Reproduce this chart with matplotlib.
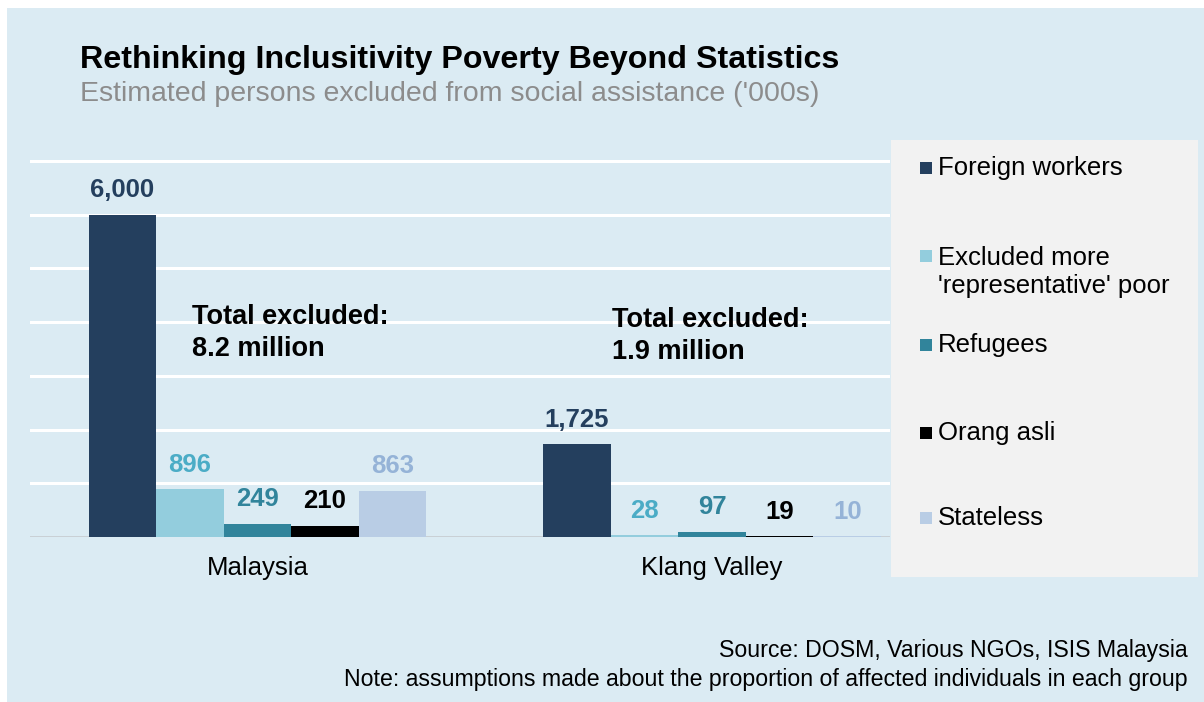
import matplotlib
matplotlib.use("Agg")
import matplotlib.pyplot as plt
from matplotlib.patches import Rectangle

plt.rcParams['font.family'] = ['Liberation Sans', 'DejaVu Sans']

# ---- data ('000 persons) ----
regions = ["Malaysia", "Klang Valley"]
groups = ["Foreign workers", "Excluded more\n'representative' poor", "Refugees",
          "Orang asli", "Stateless"]
foreign_workers = [6000, 1725]
representative_poor = [896, 28]
refugees = [249, 97]
orang_asli = [210, 19]
stateless = [863, 10]
totals_text = ["Total excluded:\n8.2 million", "Total excluded:\n1.9 million"]

series = [foreign_workers, representative_poor, refugees, orang_asli, stateless]
bar_colors = ["#243f5e", "#93cddd", "#31849b", "#000000", "#b9cde5"]
label_colors = ["#243f5e", "#4bacc6", "#31849b", "#000000", "#95b3d7"]

W, H = 1204, 702
BG = "#dbebf3"

fig = plt.figure(figsize=(W / 100, H / 100), dpi=100)
fig.patch.set_facecolor("white")


def fx(px):
    return px / W


def fy(py):
    return 1 - py / H


# panel background
fig.patches.append(Rectangle((fx(7), 0), 1 - fx(7), fy(8), transform=fig.transFigure,
                             facecolor=BG, edgecolor="none", zorder=-10))

# ---- axes ----
ymax = 7100
base_py, top_py = 537, 161
h_px = (base_py - top_py) * ymax / 7000
ax = fig.add_axes([fx(30), fy(base_py), fx(890 - 30), h_px / H])
ax.set_zorder(1)
ax.set_facecolor("none")
ax.set_xlim(-0.5, 1.391)
ax.set_ylim(0, ymax)
for s in ax.spines.values():
    s.set_visible(False)
ax.set_yticks(range(0, 8000, 1000))
ax.set_yticklabels([])
ax.tick_params(axis="y", length=0)
ax.grid(axis="y", color="white", linewidth=2.2, zorder=0)
ax.set_axisbelow(True)

n = len(series)
bw = 0.1485
x = list(range(len(regions)))
for i, (vals, c, lc) in enumerate(zip(series, bar_colors, label_colors)):
    offs = [xi + (i - (n - 1) / 2) * bw for xi in x]
    ax.bar(offs, vals, width=bw, color=c, zorder=3)
    for xo, v in zip(offs, vals):
        ax.annotate(f"{v:,}", (xo, v), xytext=(0, 12.5), textcoords="offset points",
                    ha="center", va="baseline", fontsize=18.5, fontweight="bold",
                    color=lc, zorder=4)

ax.axhline(0, color="#c3cbd0", linewidth=2, zorder=2)

ax.set_xticks(x)
ax.set_xticklabels(regions, fontsize=18.5, color="black")
ax.tick_params(axis="x", length=0, pad=14)

# total annotations
for xt, yt, t in zip([-0.143, 0.779], [3790, 3750], totals_text):
    ax.text(xt, yt, t, ha="left", va="center", fontsize=19.5, fontweight="bold",
            color="black", linespacing=1.3, zorder=5)

# ---- legend panel ----
fig.patches.append(Rectangle((fx(891), fy(577)), fx(1198 - 891), (577 - 140) / H,
                             transform=fig.transFigure, facecolor="#f2f2f2",
                             edgecolor="none", zorder=5))
legend_y = [168, 272, 345, 433, 518]
for name, c, py in zip(groups, bar_colors, legend_y):
    nlines = name.count("\n") + 1
    sq_py = py - (nlines - 1) * 16
    fig.patches.append(Rectangle((fx(920), fy(sq_py + 6)), fx(12), 12 / H,
                                 transform=fig.transFigure, facecolor=c,
                                 edgecolor="none", zorder=6))
    fig.text(fx(938), fy(py), name, ha="left", va="center", fontsize=18.5,
             color="black", linespacing=1.2, zorder=7)

# ---- titles and notes ----
fig.text(fx(80), fy(68), "Rethinking Inclusitivity Poverty Beyond Statistics",
         ha="left", va="baseline", fontsize=23.2, fontweight="bold", color="black")
fig.text(fx(80), fy(101), "Estimated persons excluded from social assistance ('000s)",
         ha="left", va="baseline", fontsize=20.5, color="#8c8c8c")
fig.text(fx(1188), fy(657), "Source: DOSM, Various NGOs, ISIS Malaysia",
         ha="right", va="baseline", fontsize=16.7, color="black")
fig.text(fx(1188), fy(686),
         "Note: assumptions made about the proportion of affected individuals in each group",
         ha="right", va="baseline", fontsize=16.7, color="black")

fig.savefig("out.png", dpi=100, facecolor=fig.get_facecolor())
